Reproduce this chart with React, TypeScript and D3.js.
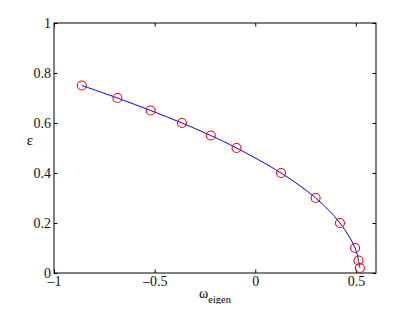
import { useEffect, useRef } from 'react';
import * as d3 from 'd3';

// eigenfrequency vs epsilon
const omega = [-0.862, -0.685, -0.52, -0.364, -0.221, -0.093, 0.128, 0.3, 0.421, 0.496, 0.513, 0.52];
const eps = [0.75, 0.7, 0.65, 0.6, 0.55, 0.5, 0.4, 0.3, 0.2, 0.1, 0.05, 0.02];
const xTicks = [-1, -0.5, 0, 0.5];
const yTicks = [0, 0.2, 0.4, 0.6, 0.8, 1];

const App = () => {
  const svgRef = useRef<SVGSVGElement | null>(null);

  useEffect(() => {
    if (!svgRef.current) return;
    const svg = d3.select(svgRef.current);
    svg.selectAll('*').remove();

    const width = 415;
    const height = 312;
    const margin = { top: 23, right: 39, bottom: 39, left: 54 };
    const font = 'Liberation Serif, Times New Roman, serif';

    const x = d3.scaleLinear().domain([-1, 0.6]).range([margin.left, width - margin.right]);
    const y = d3.scaleLinear().domain([0, 1]).range([height - margin.bottom, margin.top]);

    const fmt = (d: d3.NumberValue) => String(+d).replace('-', '\u2013');
    const tl = 3.5;

    // box
    svg.append('rect')
      .attr('x', x(-1)).attr('y', y(1))
      .attr('width', x(0.6) - x(-1)).attr('height', y(0) - y(1))
      .attr('fill', 'none').attr('stroke', '#000').attr('stroke-width', 1);

    const axisStyle = (g: any) => {
      g.select('.domain').remove();
      g.selectAll('line').attr('stroke', '#000');
      g.selectAll('text').style('font-family', font).attr('font-size', 14).attr('fill', '#111');
    };

    svg.append('g')
      .attr('transform', `translate(0,${y(0)})`)
      .call(d3.axisBottom(x).tickValues(xTicks).tickFormat(fmt).tickSizeInner(-tl).tickSizeOuter(0).tickPadding(3.5))
      .call(axisStyle);
    svg.append('g')
      .attr('transform', `translate(0,${y(1)})`)
      .call(d3.axisTop(x).tickValues(xTicks).tickFormat(() => '').tickSizeInner(-tl).tickSizeOuter(0))
      .call(axisStyle);
    svg.append('g')
      .attr('transform', `translate(${x(-1)},0)`)
      .call(d3.axisLeft(y).tickValues(yTicks).tickFormat(fmt).tickSizeInner(-tl).tickSizeOuter(0).tickPadding(3))
      .call(axisStyle);
    svg.append('g')
      .attr('transform', `translate(${x(0.6)},0)`)
      .call(d3.axisRight(y).tickValues(yTicks).tickFormat(() => '').tickSizeInner(-tl).tickSizeOuter(0))
      .call(axisStyle);

    const pts = omega.map((w, i) => [w, eps[i]] as [number, number]);

    const line = d3.line<[number, number]>()
      .x(d => x(d[0])).y(d => y(d[1]))
      .curve(d3.curveCatmullRom.alpha(0.5));

    svg.append('path')
      .datum(pts)
      .attr('d', line)
      .attr('fill', 'none')
      .attr('stroke', '#0000ff')
      .attr('stroke-width', 1);

    svg.selectAll('circle.m')
      .data(pts)
      .join('circle')
      .attr('class', 'm')
      .attr('cx', d => x(d[0]))
      .attr('cy', d => y(d[1]))
      .attr('r', 4.5)
      .attr('fill', 'none')
      .attr('stroke', '#ff0000')
      .attr('stroke-width', 1.1);

    // labels
    svg.append('text')
      .attr('x', 30).attr('y', 145)
      .attr('text-anchor', 'middle')
      .style('font-family', font).attr('font-size', 15)
      .text('\u03b5');

    const xl = svg.append('text')
      .attr('x', 215).attr('y', 298)
      .attr('text-anchor', 'middle')
      .style('font-family', font).attr('font-size', 14);
    xl.append('tspan').text('\u03c9');
    xl.append('tspan').attr('dy', 5).attr('font-size', 10.5).text('eigen');
  }, []);

  return <svg ref={svgRef} width={415} height={312} style={{ display: 'block', margin: '-8px' }} />;
};

export default App;
